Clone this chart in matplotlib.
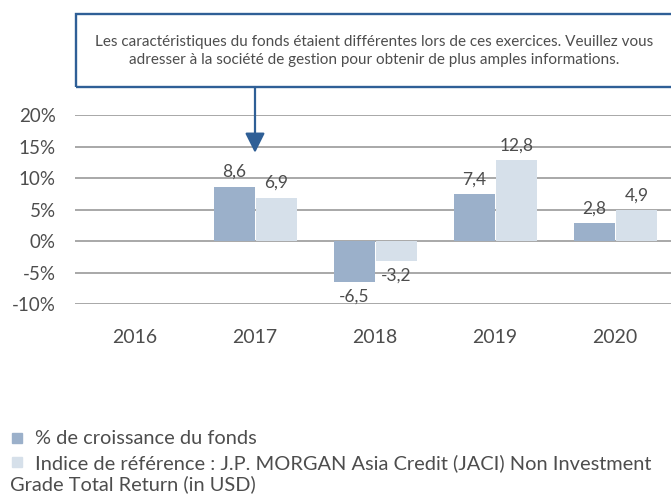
import numpy as np
import matplotlib
matplotlib.use('Agg')
import matplotlib.pyplot as plt
from matplotlib.patches import Rectangle

plt.rcParams['font.family'] = ['Lato', 'DejaVu Sans']

years = ['2016', '2017', '2018', '2019', '2020']
fund = [np.nan, 8.6, -6.5, 7.4, 2.8]
bench = [np.nan, 6.9, -3.2, 12.8, 4.9]
yticks = [-10, -5, 0, 5, 10, 15, 20]
fund_name = '% de croissance du fonds'
bench_name = 'Indice de référence : J.P. MORGAN Asia Credit (JACI) Non Investment'
bench_name2 = 'Grade Total Return (in USD)'
note = ('Les caractéristiques du fonds étaient différentes lors de ces exercices. Veuillez vous\n'
        'adresser à la société de gestion pour obtenir de plus amples informations.')

c_fund = '#9bb0ca'
c_bench = '#d6e0ea'
c_blue = '#2f5f96'
c_text = '#4d4d4d'
c_grid = '#a8a8a8'

W, H = 671, 499
fig = plt.figure(figsize=(W / 100, H / 100), dpi=100)
ax = fig.add_axes([75 / W, 1 - 304 / H, 600 / W, 189 / H])

x = np.arange(len(years))
mask = ~np.isnan(fund)
b1 = ax.bar(x[mask] - 0.172, np.array(fund)[mask], width=0.34, color=c_fund, zorder=3)
b2 = ax.bar(x[mask] + 0.178, np.array(bench)[mask], width=0.34, color=c_bench, zorder=3)

def fmt(v):
    return f'{v:.1f}'.replace('.', ',')

ax.bar_label(b1, labels=[fmt(v) for v in np.array(fund)[mask]], padding=5,
             fontsize=12.5, color=c_text)
ax.bar_label(b2, labels=[fmt(v) for v in np.array(bench)[mask]], padding=5,
             fontsize=12.5, color=c_text)

ax.set_xlim(-0.5, 4.5)
ax.set_ylim(-10, 20)
ax.set_yticks(yticks)
ax.set_yticklabels([f'{t}%' for t in yticks])
ax.set_xticks(x)
ax.set_xticklabels(years)
ax.grid(axis='y', color=c_grid, lw=1.4, zorder=0)
ax.tick_params(length=0, colors=c_text, labelsize=13.5)
ax.tick_params(axis='x', pad=18, labelsize=14)
ax.tick_params(axis='y', pad=14)
for s in ax.spines.values():
    s.set_visible(False)

# note box
fig.patches.append(Rectangle((76 / W, 1 - 87 / H), 640 / W, 73 / H, transform=fig.transFigure,
                             fill=False, edgecolor=c_blue, lw=1.7))
fig.text(374 / W, 1 - 51 / H, note, ha='center', va='center', fontsize=11,
         color=c_text, linespacing=1.3)
ax.annotate('', xy=(1, 14), xycoords='data', xytext=(1, 1 - 87 / H),
            textcoords=('data', 'figure fraction'),
            arrowprops=dict(arrowstyle='-|>,head_length=1.2,head_width=0.6', mutation_scale=10,
                            color=c_blue, lw=1.6, shrinkA=0, shrinkB=0))

# legend
fig.patches.append(Rectangle((12 / W, 1 - 443 / H), 10 / W, 10 / H, transform=fig.transFigure,
                             color=c_fund))
fig.patches.append(Rectangle((12 / W, 1 - 467 / H), 10 / W, 10 / H, transform=fig.transFigure,
                             color=c_bench))
fig.text(35 / W, 1 - 438 / H, fund_name, va='center', fontsize=14.4, color=c_text)
fig.text(35 / W, 1 - 463 / H, bench_name, va='center', fontsize=14.4, color=c_text)
fig.text(10 / W, 1 - 484 / H, bench_name2, va='center', fontsize=14.4, color=c_text)

fig.savefig('out.png', dpi=100)
